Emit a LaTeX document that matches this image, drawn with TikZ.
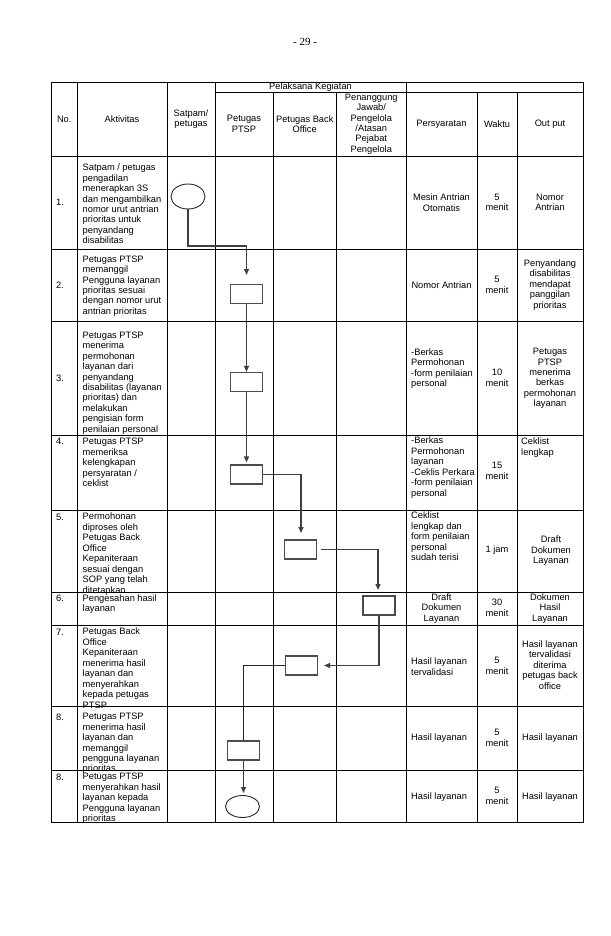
\documentclass[tikz,border=0pt]{standalone}
\usepackage{fontspec}
\setmainfont{Liberation Sans}
\newfontfamily\pagefont{Liberation Serif}
\usetikzlibrary{arrows.meta,shapes.geometric}
\tikzset{
  grid/.style={line width=0.9pt,black},
  txt/.style={inner sep=0pt,font=\fontsize{9.3}{10.45}\selectfont,align=center},
  ltxt/.style={txt,align=left,anchor=west},
  ttxt/.style={txt,align=left,anchor=north west},
  proc/.style={draw=black!70,line width=1.2pt,minimum width=32pt,
               minimum height=19pt,inner sep=0pt},
  term/.style={ellipse,draw=black!85,line width=0.9pt,minimum width=34pt,
               minimum height=25pt,inner sep=0pt},
  flow/.style={-{Triangle[length=6pt,width=5pt]},line width=1.3pt,black!75},
  link/.style={line width=1pt,black!85},
}

\begin{document}
\begin{tikzpicture}[x=1pt,y=-1pt]
  \useasboundingbox (0,0) rectangle (610,936);
  \node[font=\pagefont\fontsize{11}{13}\selectfont] (hal) at (305,42) {- 29 -};

  \draw[grid] (51,82) rectangle (583.5,822);
  \draw[grid] (215,92) -- (583.5,92);
  \foreach \y in {156,249,321,435,510,592,625,706,770}
    \draw[grid] (51,\y) -- (583.5,\y);
  \foreach \x in {77.5,167,215,406}
    \draw[grid] (\x,82) -- (\x,822);
  \foreach \x in {273,336.5,477,517}
    \draw[grid] (\x,92) -- (\x,822);

  \node[txt] (hno)  at (64.25,119) {No.};
  \node[txt] (hakt) at (122,119) {Aktivitas};
  \node[txt] (hsat) at (191,119) {Satpam/\\petugas};
  \node[txt] (hpel) at (310.5,87.5) {Pelaksana Kegiatan};
  \node[txt] (hpts) at (244,124) {Petugas\\PTSP};
  \node[txt] (hbo)  at (304.75,124) {Petugas Back\\Office};
  \node[txt] (hpj)  at (371.25,124)
    {Penanggung\\Jawab/\\Pengelola\\/Atasan\\Pejabat\\Pengelola};
  \node[txt] (hsyr) at (441.5,124) {Persyaratan};
  \node[txt] (hwkt) at (497,124) {Waktu};
  \node[txt] (hout) at (550,124) {Out put};

  \node[ltxt] (no1) at (56,202.5) {1.};
  \node[ltxt] (no2) at (56,285) {2.};
  \node[ltxt] (no3) at (56,378) {3.};
  \node[ttxt] (no4) at (56,438) {4.};
  \node[ttxt] (no5) at (56,513.5) {5.};
  \node[ttxt] (no6) at (56,594.5) {6.};
  \node[ttxt] (no7) at (56,628.5) {7.};
  \node[ttxt] (no8) at (56,713.5) {8.};
  \node[ttxt] (no9) at (56,773.5) {8.};

  \node[ltxt] (akt1) at (82.5,204)
    {Satpam / petugas\\pengadilan\\menerapkan 3S\\dan mengambilkan\\nomor urut antrian\\prioritas untuk\\penyandang\\disabilitas};
  \node[ltxt] (akt2) at (82.5,286)
    {Petugas PTSP\\memanggil\\Pengguna layanan\\prioritas sesuai\\dengan nomor urut\\antrian prioritas};
  \node[ltxt] (akt3) at (82.5,383)
    {Petugas PTSP\\menerima\\permohonan\\layanan dari\\penyandang\\disabilitas (layanan\\prioritas) dan\\melakukan\\pengisian form\\penilaian personal};
  \node[ttxt] (akt4) at (82.5,438)
    {Petugas PTSP\\memeriksa\\kelengkapan\\persyaratan /\\ceklist};
  \node[ttxt] (akt5) at (82.5,513)
    {Permohonan\\diproses oleh\\Petugas Back\\Office\\Kepaniteraan\\sesuai dengan\\SOP yang telah\\ditetapkan};
  \node[ttxt] (akt6) at (82.5,594.5) {Pengesahan hasil\\layanan};
  \node[ttxt] (akt7) at (82.5,628)
    {Petugas Back\\Office\\Kepaniteraan\\menerima hasil\\layanan dan\\menyerahkan\\kepada petugas\\PTSP};
  \node[ttxt] (akt8) at (82.5,713)
    {Petugas PTSP\\menerima hasil\\layanan dan\\memanggil\\pengguna layanan\\prioritas};
  \node[ttxt] (akt9) at (82.5,773)
    {Petugas PTSP\\menyerahkan hasil\\layanan kepada\\Pengguna layanan\\prioritas};

  \node[txt]  (syr1) at (441.5,202.5) {Mesin Antrian\\Otomatis};
  \node[txt]  (syr2) at (441.5,285) {Nomor Antrian};
  \node[ltxt] (syr3) at (411,368.5) {-Berkas\\Permohonan\\-form penilaian\\personal};
  \node[ltxt] (syr4) at (411,467.5) {-Berkas\\Permohonan\\layanan\\-Ceklis Perkara\\-form penilaian\\personal};
  \node[ltxt] (syr5) at (411,536.5) {Ceklist\\lengkap dan\\form penilaian\\personal\\sudah terisi};
  \node[txt]  (syr6) at (441.5,608.5) {Draft\\Dokumen\\Layanan};
  \node[ltxt] (syr7) at (411,666.5) {Hasil layanan\\tervalidasi};
  \node[ltxt] (syr8) at (411,738) {Hasil layanan};
  \node[ltxt] (syr9) at (411,797) {Hasil layanan};

  \node[txt] (wkt1) at (497,202.5) {5\\menit};
  \node[txt] (wkt2) at (497,285) {5\\menit};
  \node[txt] (wkt3) at (497,378) {10\\menit};
  \node[txt] (wkt4) at (497,471) {15\\menit};
  \node[txt] (wkt5) at (497,550) {1 jam};
  \node[txt] (wkt6) at (497,608) {30\\menit};
  \node[txt] (wkt7) at (497,666) {5\\menit};
  \node[txt] (wkt8) at (497,738) {5\\menit};
  \node[txt] (wkt9) at (497,796) {5\\menit};

  \node[txt]  (out1) at (550,202.5) {Nomor\\Antrian};
  \node[txt]  (out2) at (550,285) {Penyandang\\disabilitas\\mendapat\\panggilan\\prioritas};
  \node[txt]  (out3) at (550,378.5) {Petugas\\PTSP\\menerima\\berkas\\permohonan\\layanan};
  \node[ttxt] (out4) at (521,438) {Ceklist\\lengkap};
  \node[txt]  (out5) at (551,551) {Draft\\Dokumen\\Layanan};
  \node[txt]  (out6) at (550,608.5) {Dokumen\\Hasil\\Layanan};
  \node[txt]  (out7) at (550,665) {Hasil layanan\\tervalidasi\\diterima\\petugas back\\office};
  \node[txt]  (out8) at (550,738) {Hasil layanan};
  \node[txt]  (out9) at (550,797) {Hasil layanan};

  \node[term] (satpam)  at (188,196.5) {};
  \node[proc] (panggil) at (246.5,294) {};
  \node[proc] (terima)  at (246.5,382) {};
  \node[proc] (periksa) at (246.5,474.5) {};
  \node[proc] (proses)  at (300.5,549.5) {};
  \node[proc] (sah)     at (379,605.5) {};
  \node[proc] (serah)   at (301.5,665.5) {};
  \node[proc] (hasil)   at (243.5,750.5) {};
  \node[term,minimum height=22pt] (selesai) at (242.5,806.5) {};

  \coordinate (k1) at (246.5,246);
  \coordinate (a1) at (246.5,275);
  \coordinate (a4) at (301,533);
  \coordinate (a5) at (378,590);
  \coordinate (a6) at (324,665.5);
  \coordinate (a8) at (243.5,793);

  \draw[flow] (satpam.south) |- (k1) -- (a1);
  \draw[flow] (panggil.south) -- (terima.north);
  \draw[flow] (terima.south) -- ([yshift=2pt]periksa.north);
  \draw[flow] (periksa.east) -| (a4);
  \draw[flow] ([xshift=4pt]proses.east) -| (a5);
  \draw[flow] (sah.south) |- (a6);
  \draw[link] (serah.west) -| (hasil.north);
  \draw[flow] (hasil.south) -- (a8);
\end{tikzpicture}
\end{document}
